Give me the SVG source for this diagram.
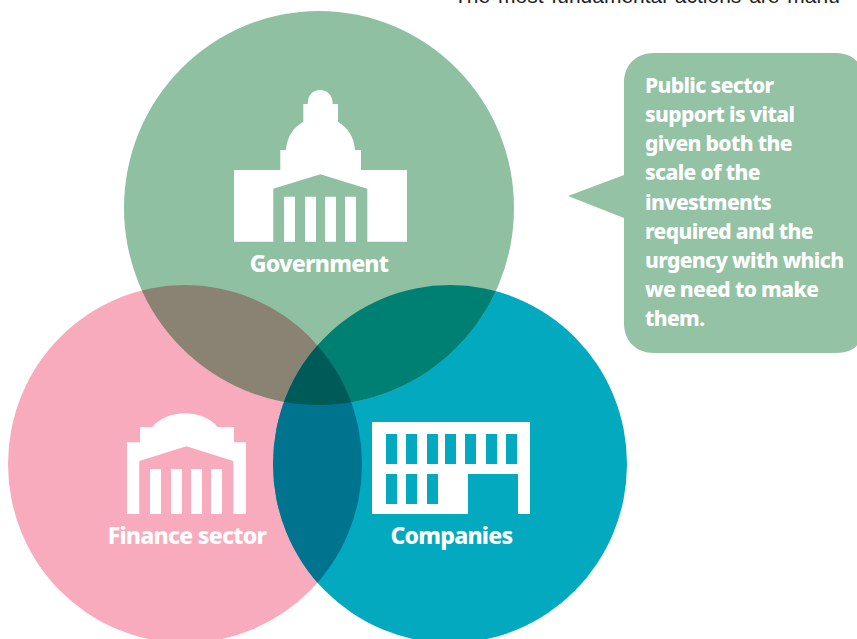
<svg xmlns="http://www.w3.org/2000/svg" width="857" height="639" viewBox="0 0 857 639">
<style>
.l{font-family:"Noto Sans","Open Sans",sans-serif;font-weight:800;fill:#fff}
.n{font-size:23px;text-anchor:middle;letter-spacing:-.75px}
.c{font-size:21px;letter-spacing:-.62px}
.w{fill:#fff}
</style>
<defs>
<clipPath id="cg"><ellipse cx="319" cy="208" rx="195" ry="197"/></clipPath>
<clipPath id="cp"><ellipse cx="185" cy="464" rx="177" ry="179"/></clipPath>
<clipPath id="ct"><ellipse cx="450" cy="464" rx="177" ry="179"/></clipPath>
</defs>
<rect width="857" height="639" fill="#fff"/>
<text x="454" y="3" font-family="Liberation Sans,sans-serif" font-size="21" word-spacing="2" fill="#222">The most fundamental actions are manu</text>
<g id="venn">
<ellipse cx="185" cy="464" rx="177" ry="179" fill="#f7abbc"/>
<ellipse cx="450" cy="464" rx="177" ry="179" fill="#03a9be"/>
<ellipse cx="319" cy="208" rx="195" ry="197" fill="#8fc0a1"/>
<g clip-path="url(#cg)"><ellipse cx="185" cy="464" rx="177" ry="179" fill="#8a8272"/><ellipse cx="450" cy="464" rx="177" ry="179" fill="#008072"/></g>
<g clip-path="url(#cp)"><ellipse cx="450" cy="464" rx="177" ry="179" fill="#00738f"/><g clip-path="url(#ct)"><ellipse cx="319" cy="208" rx="195" ry="197" fill="#005a58"/></g></g>
</g>
<g id="government">
<path class="w" fill-rule="evenodd" d="M234 170H280.300V150H286C287 136 294 127 303.300 121.700V104H307.700C307.700 95 313 90 320 90S332.700 95 332.700 104H338V121.700C347 127 354 136 355 150H361V170H407V241.700H367.300V188.700L320.300 174.300L273.300 188.700V241.700H234Z"/>
<path class="w" d="M284 196.700h11V241.700h-11zM305 196.700h11V241.700h-11zM325 196.700h11V241.700h-11zM345 196.700h11V241.700h-11z"/>
<text class="l n" x="319" y="272">Government</text>
</g>
<g id="finance">
<path class="w" d="M127 442.300H140V427H152.300C160 418 172 413.300 185 413.300S210 418 217.700 427H234V442.300H246V514H233.300V461L186.300 446.300L139.300 461V514H127Z"/>
<path class="w" d="M150 469h11V514h-11zM171 469h11V514h-11zM191 469h11V514h-11zM211 469h11V514h-11z"/>
<text class="l n" x="187" y="544">Finance sector</text>
</g>
<g id="companies">
<path class="w" fill-rule="evenodd" d="M372 422H530V514H518V474H468V514H372ZM386 434v30h11v-30zM406 434v30h11v-30zM427 434v30h11v-30zM445 434v30h11v-30zM465 434v30h11v-30zM486 434v30h11v-30zM506 434v30h11v-30zM386 474v30h11v-30zM406 474v30h11v-30zM427 474v30h11v-30z"/>
<text class="l n" x="451.500" y="544">Companies</text>
</g>
<g id="callout">
<path fill="#93c2a4" d="M654 53H835C850 53 857 60 860 66V340C857 348 850 353 835 353H654C636 353 624 341 624 323V218L568 196L624 175V83C624 65 636 53 654 53Z"/>
<text class="l c"><tspan x="645" y="93">Public sector</tspan><tspan x="645" y="122">support is vital</tspan><tspan x="645" y="151">given both the</tspan><tspan x="645" y="180">scale of the</tspan><tspan x="645" y="210">investments</tspan><tspan x="645" y="239">required and the</tspan><tspan x="645" y="268">urgency with which</tspan><tspan x="645" y="297">we need to make</tspan><tspan x="645" y="326">them.</tspan></text>
</g>
</svg>
